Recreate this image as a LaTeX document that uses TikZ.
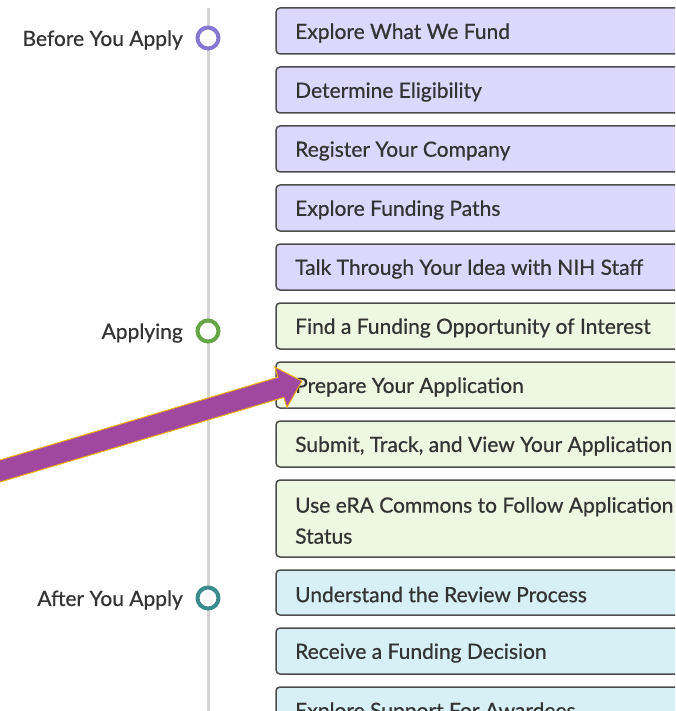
\documentclass[tikz,border=0pt]{standalone}
\usepackage{fontspec}
\setmainfont{Lato}[FakeBold=0.6]
\definecolor{txt}{HTML}{333333}
\definecolor{bord}{HTML}{4D4D4D}
\definecolor{fpurple}{HTML}{DCD7FC}
\definecolor{fgreen}{HTML}{EEF7E1}
\definecolor{fblue}{HTML}{D6F0F6}
\definecolor{cpurple}{HTML}{8778D4}
\definecolor{cgreen}{HTML}{66A646}
\definecolor{cteal}{HTML}{3B8B8F}
\definecolor{arrfill}{HTML}{A0479F}
\definecolor{arrline}{HTML}{F2B200}
\definecolor{tline}{HTML}{D4D4D4}
\tikzset{
  stepbox/.style={draw=bord, line width=1.5pt, rounded corners=4pt},
  boxtext/.style={anchor=west, inner sep=0pt, text=txt, font=\fontsize{21}{31}\selectfont, align=left},
  phase/.style={anchor=east, inner sep=0pt, text=txt, font=\fontsize{21}{24}\selectfont},
  ring/.style={draw, line width=4pt, circle, minimum size=21pt, inner sep=0pt, fill=white},
}
\begin{document}
\begin{tikzpicture}[x=1pt,y=-1pt]
\useasboundingbox (0,0) rectangle (675,711);
\clip (0,0) rectangle (675,711);
\fill[white] (0,0) rectangle (675,711);
% timeline
\draw[tline, line width=3pt] (208,8) -- (208,720);
\node[ring, draw=cpurple] (c1) at (208,38) {};
\node[ring, draw=cgreen] (c2) at (208,331) {};
\node[ring, draw=cteal] (c3) at (208,598) {};
\node[phase] (l1) at (183,40) {Before You Apply};
\node[phase] (l2) at (183,333) {Applying};
\node[phase] (l3) at (183,600) {After You Apply};
% boxes
\newcommand{\stepnode}[5]{%
  \draw[stepbox, fill=#1] (276,#2) rectangle (700,#3);
  \node[boxtext] (#4) at (295,{(#2+#3)/2+2}) {#5};}
\stepnode{fpurple}{8}{54}{b1}{Explore What We Fund}
\stepnode{fpurple}{67}{113}{b2}{Determine Eligibility}
\stepnode{fpurple}{126}{172}{b3}{Register Your Company}
\stepnode{fpurple}{185}{231}{b4}{Explore Funding Paths}
\stepnode{fpurple}{244}{290}{b5}{Talk Through Your Idea with NIH Staff}
\stepnode{fgreen}{303}{349}{b6}{Find a Funding Opportunity of Interest}
\stepnode{fgreen}{362}{408}{b7}{Prepare Your Application}
\stepnode{fgreen}{421}{467}{b8}{Submit, Track, and View Your Application}
\stepnode{fgreen}{480}{557}{b9}{Use eRA Commons to Follow Application\\Status}
\stepnode{fblue}{570}{615}{b10}{Understand the Review Process}
\stepnode{fblue}{628}{674}{b11}{Receive a Funding Decision}
\stepnode{fblue}{687}{733}{b12}{Explore Support For Awardees}
% arrow
\coordinate (tail) at (-10,474);
\coordinate (tip) at (302,381);
\filldraw[fill=arrfill, draw=arrline, line width=1pt, line join=miter]
  (-13,463.9) -- (277.9,377.2) -- (274.9,367.2) -- (tip) -- (286.9,407.4)
  -- (283.9,397.4) -- (-7,484.1) -- cycle;
\end{tikzpicture}
\end{document}
